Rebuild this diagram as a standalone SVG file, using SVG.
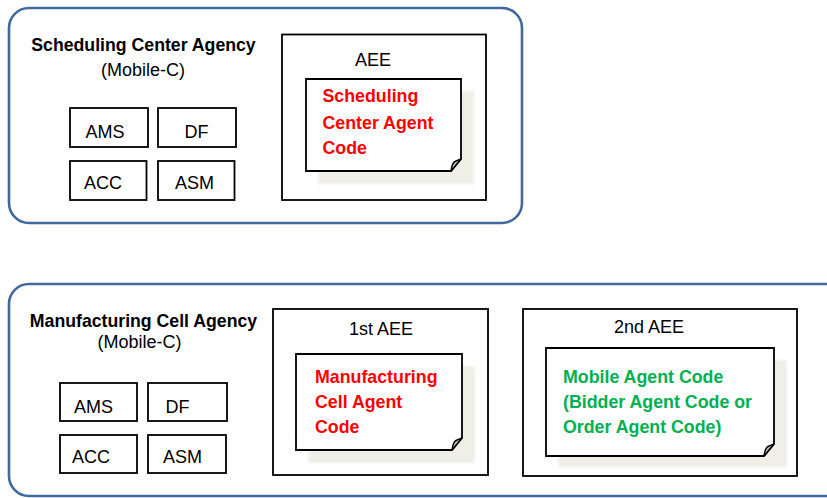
<svg xmlns="http://www.w3.org/2000/svg" width="827" height="498" viewBox="0 0 827 498">
  <style>
    .agency { fill: #ffffff; stroke: #41699b; stroke-width: 2.6; }
    .box { fill: #ffffff; stroke: #000000; stroke-width: 1.8; }
    .note { fill: #ffffff; stroke: #000000; stroke-width: 1.8; stroke-linejoin: miter; }
    .curl { fill: #bdbdbd; stroke: #000000; stroke-width: 1.4; stroke-linejoin: round; }
    .shadow { fill: #efefe8; filter: url(#soft); }
    .title { font-family: "Liberation Sans", Arial, sans-serif; font-weight: bold; font-size: 17.7px; fill: #000; text-anchor: middle; }
    .label { font-family: "Liberation Sans", Arial, sans-serif; font-size: 18px; fill: #000; text-anchor: middle; }
    .code { font-family: "Liberation Sans", Arial, sans-serif; font-weight: bold; font-size: 17.8px; }
    .red { fill: #ff0000; }
    .green { fill: #00b050; }
  </style>
  <defs>
    <filter id="soft" x="-10%" y="-10%" width="120%" height="120%">
      <feGaussianBlur stdDeviation="1.6"/>
    </filter>
  </defs>

  <!-- Scheduling Center Agency -->
  <g id="scheduling-center-agency">
    <rect class="agency" x="9" y="8" width="513" height="215" rx="20" ry="20"/>
    <text class="title" x="143.5" y="50.5">Scheduling Center Agency</text>
    <text class="label" x="143" y="75.5">(Mobile-C)</text>
  </g>
  <g id="sc-ams">
    <rect class="box" x="70" y="108" width="78" height="39"/>
    <text class="label" x="105" y="138">AMS</text>
  </g>
  <g id="sc-df">
    <rect class="box" x="158" y="108" width="78" height="39"/>
    <text class="label" x="196.5" y="138">DF</text>
  </g>
  <g id="sc-acc">
    <rect class="box" x="70" y="161" width="76.5" height="39"/>
    <text class="label" x="103" y="188.5">ACC</text>
  </g>
  <g id="sc-asm">
    <rect class="box" x="158" y="161" width="76.5" height="39"/>
    <text class="label" x="194.5" y="188.5">ASM</text>
  </g>
  <g id="sc-aee">
    <rect class="box" x="282" y="34.5" width="204" height="165.5"/>
    <text class="label" x="373" y="65.5">AEE</text>
  </g>
  <g id="sc-agent-code">
    <rect class="shadow" x="318" y="91" width="156" height="93"/>
    <path class="note" d="M306,79 H461 V159 L451,171 H306 Z"/>
    <path class="curl" d="M451,171 Q452,163 455,161.5 Q458,160 461,159 Z"/>
    <text class="code red" x="322.5"><tspan x="322.5" y="102">Scheduling</tspan><tspan x="322.5" y="128.5">Center Agent</tspan><tspan x="322.5" y="154">Code</tspan></text>
  </g>

  <!-- Manufacturing Cell Agency -->
  <g id="manufacturing-cell-agency">
    <rect class="agency" x="9" y="284" width="840" height="212" rx="20" ry="20"/>
    <text class="title" x="143.5" y="327">Manufacturing Cell Agency</text>
    <text class="label" x="139.5" y="347.5">(Mobile-C)</text>
  </g>
  <g id="mc-ams">
    <rect class="box" x="60" y="383" width="77" height="38"/>
    <text class="label" x="93.5" y="412.5">AMS</text>
  </g>
  <g id="mc-df">
    <rect class="box" x="148" y="383" width="79" height="38"/>
    <text class="label" x="177.5" y="412.5">DF</text>
  </g>
  <g id="mc-acc">
    <rect class="box" x="60" y="435" width="77" height="38"/>
    <text class="label" x="91" y="463">ACC</text>
  </g>
  <g id="mc-asm">
    <rect class="box" x="148" y="435" width="78" height="38"/>
    <text class="label" x="182.5" y="463">ASM</text>
  </g>
  <g id="mc-aee-1">
    <rect class="box" x="273" y="309" width="215" height="166"/>
    <text class="label" x="381" y="335">1st AEE</text>
  </g>
  <g id="mc-agent-code">
    <rect class="shadow" x="308" y="366" width="167" height="97"/>
    <path class="note" d="M296,354 H462 V438 L452,450 H296 Z"/>
    <path class="curl" d="M452,450 Q453,442 456,440.5 Q459,439 462,438 Z"/>
    <text class="code red" x="315"><tspan x="315" y="383">Manufacturing</tspan><tspan x="315" y="408">Cell Agent</tspan><tspan x="315" y="433">Code</tspan></text>
  </g>
  <g id="mc-aee-2">
    <rect class="box" x="523" y="309" width="274" height="167"/>
    <text class="label" x="649" y="333">2nd AEE</text>
  </g>
  <g id="mobile-agent-code">
    <rect class="shadow" x="558" y="360" width="229" height="107"/>
    <path class="note" d="M546,348 H774 V444 L764,456 H546 Z"/>
    <path class="curl" d="M764,456 Q765,448 768,446.5 Q771,445 774,444 Z"/>
    <text class="code green" x="563"><tspan x="563" y="383">Mobile Agent Code</tspan><tspan x="563" y="408">(Bidder Agent Code or</tspan><tspan x="563" y="432.5">Order Agent Code)</tspan></text>
  </g>

  <!-- no connectors in this diagram -->
  <g id="connectors"/>
</svg>
